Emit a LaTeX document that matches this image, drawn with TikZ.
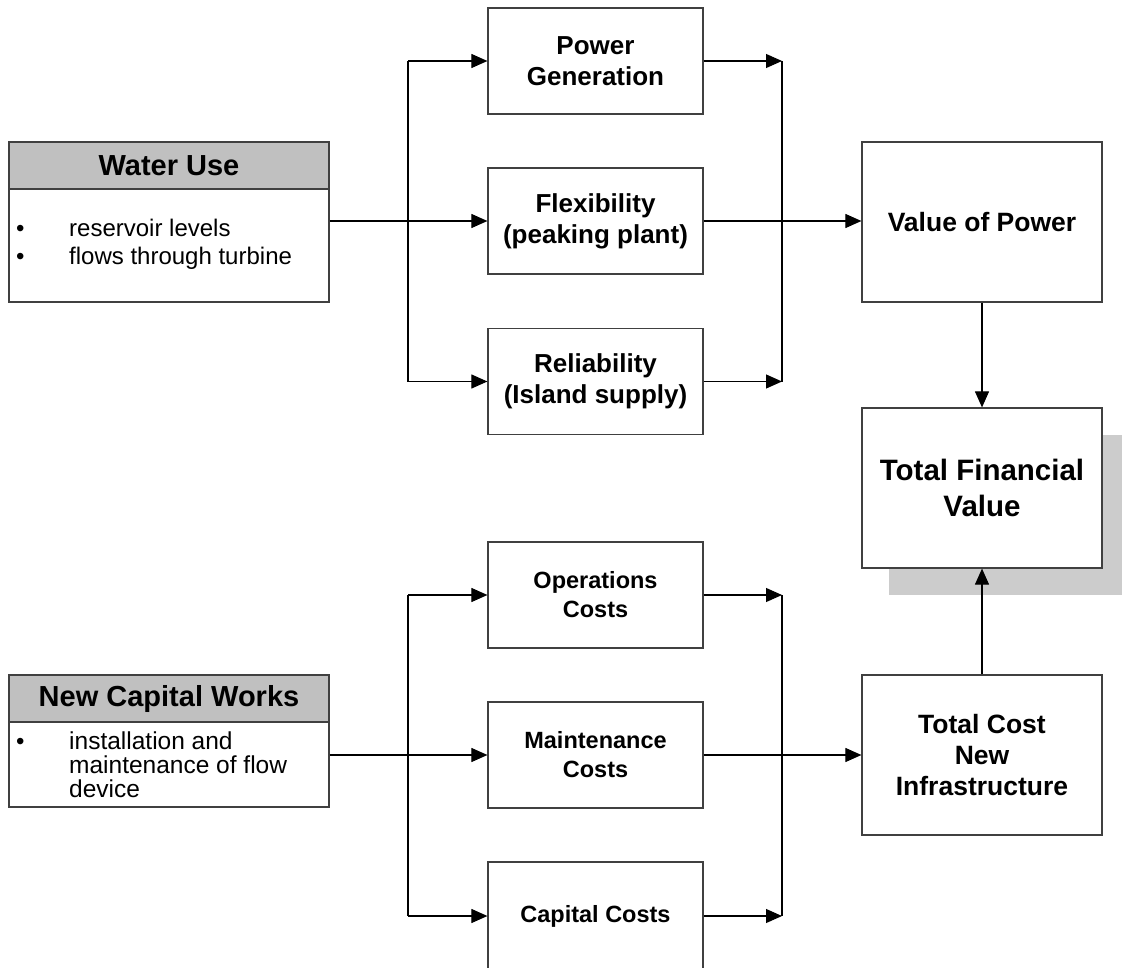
\documentclass[tikz,border=0pt]{standalone}
\usepackage{fontspec}
\setmainfont{Liberation Sans}
\usetikzlibrary{arrows.meta}
\definecolor{framegray}{HTML}{404040}
\definecolor{headgray}{HTML}{C0C0C0}
\definecolor{shadegray}{HTML}{CCCCCC}
\tikzset{
  frame/.style={draw=framegray, line width=1.2pt, fill=white, inner sep=0pt, align=center},
  midbox/.style={frame, minimum width=215pt, minimum height=106pt,
    font=\bfseries\fontsize{26}{31}\selectfont},
  costbox/.style={midbox, font=\bfseries\fontsize{23.5}{29}\selectfont},
  bigbox/.style={frame, minimum width=240pt, minimum height=160pt,
    font=\bfseries\fontsize{26.5}{31}\selectfont},
  headbox/.style={frame, fill=headgray, minimum width=320pt, minimum height=47pt,
    font=\bfseries\fontsize{29}{34}\selectfont},
  bodybox/.style={frame, minimum width=320pt},
  listtext/.style={anchor=base west, inner sep=0pt, font=\fontsize{24}{28}\selectfont},
  conn/.style={line width=1.1pt, black},
  arr/.style={conn, -{Triangle[length=16pt,width=14pt]}}
}
\begin{document}
\begin{tikzpicture}[x=1pt,y=-1pt]
\useasboundingbox (0,0) rectangle (1122,968);
\clip (0,0) rectangle (1122,968);

% trunk lines
\coordinate (lt) at (408,0);
\coordinate (rt) at (782,0);

% ---- left source boxes
\node[headbox] (wuh) at (169,165.5) {Water Use};
\node[bodybox, minimum height=113pt] (wub) at (169,245.5) {};
\node[listtext] (wb1) at (16,236.5) {•};
\node[listtext] (wt1) at (69,236.5) {reservoir levels};
\node[listtext] (wb2) at (16,264.5) {•};
\node[listtext] (wt2) at (69,264.5) {flows through turbine};

\node[headbox] (nch) at (169,698.5) {New Capital Works};
\node[bodybox, minimum height=85pt] (ncb) at (169,764.5) {};
\node[listtext] (nb1) at (16,749) {•};
\node[listtext, align=left, anchor=north west, font=\fontsize{24.5}{24}\selectfont] (nt1) at (69,732)
  {installation and\\maintenance of flow\\device};

% ---- middle boxes
\node[midbox] (pow)  at (595.5,61)    {Power\\Generation};
\node[midbox] (flex) at (595.5,221)   {Flexibility\\(peaking plant)};
\node[midbox] (rel)  at (595.5,381.5) {Reliability\\(Island supply)};
\node[costbox] (ops) at (595.5,595)   {Operations\\Costs};
\node[costbox] (mnt) at (595.5,755)   {Maintenance\\Costs};
\node[costbox, minimum height=108pt] (cap) at (595.5,916) {Capital Costs};

% ---- right column
\node[bigbox] (vop) at (982,222) {Value of Power};
\node[frame, draw=none, fill=shadegray, minimum width=240pt, minimum height=160pt] (tfvs) at (1009,515) {};
\node[bigbox, font=\bfseries\fontsize{29.5}{36}\selectfont] (tfv) at (982,488) {Total Financial\\Value};
\node[bigbox] (tcn) at (982,755) {Total Cost\\New\\Infrastructure};

% ---- upper flow
\draw[arr] (wub.east |- flex.west) -- (flex.west);
\draw[conn] (lt |- pow.west) -- (lt |- rel.west);
\draw[arr] (lt |- pow.west) -- (pow.west);
\draw[arr] (lt |- rel.west) -- (rel.west);
\draw[arr] (pow.east) -- (rt |- pow.east);
\draw[arr] (rel.east) -- (rt |- rel.east);
\draw[conn] (rt |- pow.east) -- (rt |- rel.east);
\draw[arr] (flex.east) -- (flex.east -| vop.west);

% ---- lower flow
\draw[arr] (ncb.east |- mnt.west) -- (mnt.west);
\draw[conn] (lt |- ops.west) -- (lt |- cap.west);
\draw[arr] (lt |- ops.west) -- (ops.west);
\draw[arr] (lt |- cap.west) -- (cap.west);
\draw[arr] (ops.east) -- (rt |- ops.east);
\draw[arr] (cap.east) -- (rt |- cap.east);
\draw[conn] (rt |- ops.east) -- (rt |- cap.east);
\draw[arr] (mnt.east) -- (tcn.west);

% ---- into the total
\draw[arr] (vop.south) -- (tfv.north);
\draw[arr] (tcn.north) -- (tfv.south);
\end{tikzpicture}
\end{document}
